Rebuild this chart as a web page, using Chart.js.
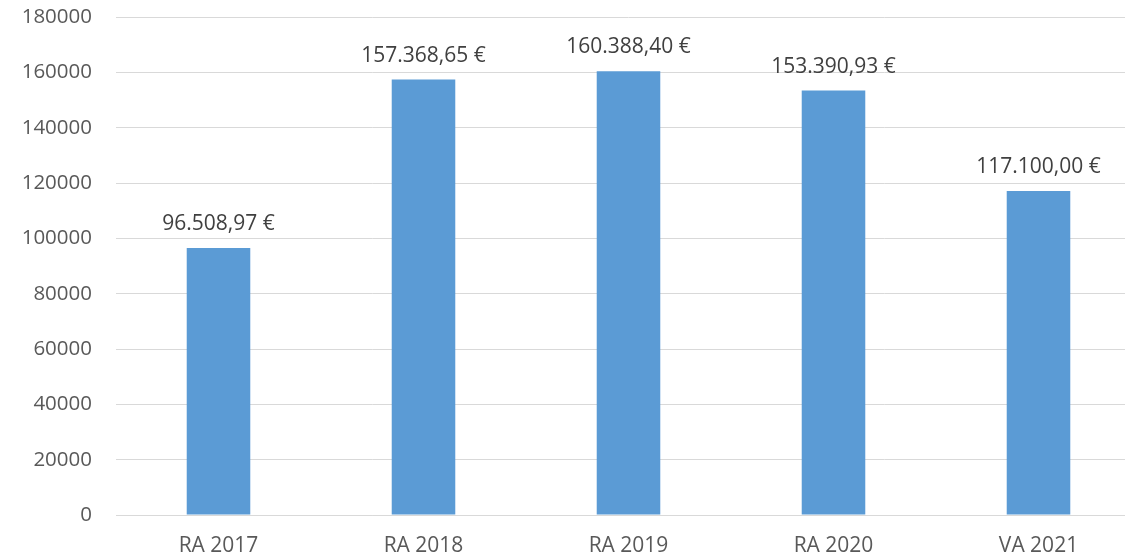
<!DOCTYPE html>
<html>
<head>
<meta charset="utf-8">
<script src="https://cdn.jsdelivr.net/npm/chart.js@4"></script>
<style>
html,body{margin:0;padding:0;background:#fff;overflow:hidden;}
#wrap{width:1125px;height:559px;overflow:hidden;}
</style>
</head>
<body>
<div id="wrap"><canvas id="c" width="1145" height="559"></canvas></div>
<script>
const categories = ["RA 2017", "RA 2018", "RA 2019", "RA 2020", "VA 2021"];
const values = [96508.97, 157368.65, 160388.40, 153390.93, 117100.00];
const yTicks = [0, 20000, 40000, 60000, 80000, 100000, 120000, 140000, 160000, 180000];

function fmtEuro(v) {
  const parts = v.toFixed(2).split(".");
  const intPart = parts[0].replace(/\B(?=(\d{3})+(?!\d))/g, ".");
  return intPart + "," + parts[1] + " €";
}

const FONT = "'Open Sans', 'Liberation Sans', sans-serif";

const labelPlugin = {
  id: "barLabels",
  afterDatasetsDraw(chart) {
    const ctx = chart.ctx;
    const meta = chart.getDatasetMeta(0);
    ctx.save();
    ctx.font = "21px " + FONT;
    ctx.fillStyle = "#404040";
    ctx.textAlign = "center";
    ctx.textBaseline = "alphabetic";
    meta.data.forEach((bar, i) => {
      ctx.fillText(fmtEuro(values[i]), bar.x, bar.y - 18);
    });
    ctx.restore();
  }
};

new Chart(document.getElementById("c"), {
  type: "bar",
  data: {
    labels: categories,
    datasets: [{
      data: values,
      backgroundColor: "#5B9BD5",
      borderWidth: 0,
      categoryPercentage: 1,
      barPercentage: 0.31
    }]
  },
  options: {
    responsive: false,
    animation: false,
    devicePixelRatio: 1,
    layout: { padding: { top: 17, right: 4, left: 0, bottom: 0 } },
    plugins: { legend: { display: false }, tooltip: { enabled: false } },
    scales: {
      x: {
        grid: { display: false, drawTicks: false },
        border: { display: true, color: "#D9D9D9", width: 1 },
        ticks: { color: "#595959", font: { size: 21, family: FONT }, padding: 18, maxRotation: 0 },
        afterFit(scale) { scale.height = 44; scale.paddingLeft = 0; scale.paddingRight = 0; }
      },
      y: {
        min: 0, max: 180000,
        afterBuildTicks(scale) { scale.ticks = yTicks.map(v => ({ value: v })); },
        grid: { color: "#D9D9D9", lineWidth: 1, drawTicks: false },
        border: { display: false },
        ticks: { color: "#595959", font: { size: 20.5, family: FONT }, padding: 24, callback: v => String(v) },
        afterFit(scale) { scale.width = 116; scale.paddingTop = 0; scale.paddingBottom = 0; }
      }
    }
  },
  plugins: [labelPlugin]
});
</script>
</body>
</html>
